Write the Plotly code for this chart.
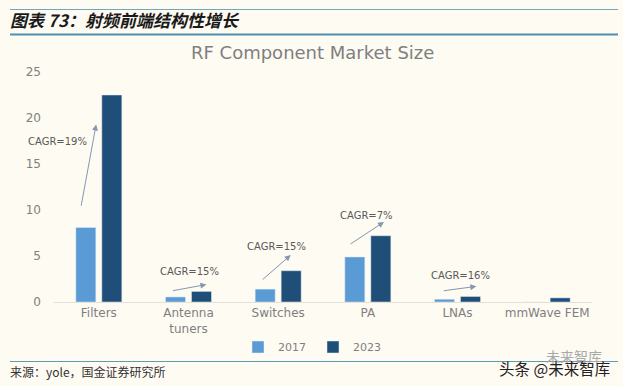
import plotly.graph_objects as go

categories = ["Filters", "Antenna<br>tuners", "Switches", "PA", "LNAs", "mmWave FEM"]
values_2017 = [8.1, 0.55, 1.4, 4.9, 0.3, 0]
values_2023 = [22.5, 1.15, 3.4, 7.2, 0.6, 0.45]
y_ticks = [0, 5, 10, 15, 20, 25]
cagr_labels = ["CAGR=19%", "CAGR=15%", "CAGR=15%", "CAGR=7%", "CAGR=16%"]
cagr_label_x = [-0.46, 1.01, 1.98, 2.99, 4.03]
cagr_label_y = [17.5, 3.3, 6.0, 9.45, 2.85]
arrow_x0 = [-0.2, 0.81, 1.81, 2.79, 3.83]
arrow_y0 = [10.3, 1.2, 2.3, 6.2, 1.2]
arrow_x1 = [-0.03, 1.2, 2.14, 3.18, 4.21]
arrow_y1 = [19.3, 1.9, 5.1, 8.7, 1.7]

W, H = 623, 386
BG = "#FEFBF3"
SANS = "DejaVu Sans"
CJK = "Noto Sans CJK SC"
fig = go.Figure()
fig.add_bar(name="2017", x=categories, y=values_2017, marker_color="#5B9BD5")
fig.add_bar(name="2023", x=categories, y=values_2023, marker_color="#1F4E79")

annotations = []
for t, x, y in zip(cagr_labels, cagr_label_x, cagr_label_y):
    annotations.append(dict(x=x, y=y, xref="x", yref="y", text=t, showarrow=False,
                            font=dict(family=SANS, size=10, color="#595959")))
for x0, y0, x1, y1 in zip(arrow_x0, arrow_y0, arrow_x1, arrow_y1):
    annotations.append(dict(x=x1, y=y1, ax=x0, ay=y0, xref="x", yref="y", axref="x", ayref="y",
                            text="", showarrow=True, arrowhead=2, arrowsize=1.2, arrowwidth=1,
                            arrowcolor="#8497B0"))


def ptext(px, py, text, size, color, family, anchor="left"):
    annotations.append(dict(x=px / W, y=1 - py / H, xref="paper", yref="paper", text=text,
                            showarrow=False, xanchor=anchor, yanchor="middle",
                            xshift=-2 if anchor == "left" else 0,
                            font=dict(family=family, size=size, color=color)))


ptext(10, 20, "<b><i>图表 73：射频前端结构性增长</i></b>", 17, "#1a1a1a", CJK)
ptext(312, 52, "RF Component Market Size", 18, "#7f7f7f", SANS, "center")
ptext(10, 371, "来源：yole，国金证券研究所", 12, "#333333", CJK)
ptext(546, 356, "未来智库", 14, "#a8a8a8", CJK)
ptext(499, 368, "头条 @未来智库", 15.5, "#222222", CJK)

shapes = [
    dict(type="line", xref="paper", yref="paper", x0=10 / W, x1=618 / W, y0=1 - py / H, y1=1 - py / H,
         line=dict(color=c, width=w), layer="below")
    for py, c, w in [(9.5, "#6FA8BE", 1), (34.5, "#4F8FAE", 2), (361.5, "#5E9BB5", 1)]
]

fig.update_layout(
    width=W, height=H, autosize=False,
    margin=dict(l=0, r=0, t=0, b=0),
    paper_bgcolor=BG, plot_bgcolor="rgba(0,0,0,0)",
    barmode="group", bargap=0.42, bargroupgap=0.23,
    font=dict(family=SANS, color="#7f7f7f", size=12),
    xaxis=dict(domain=[54 / W, 592 / W], range=[-0.5, 5.5], automargin=False, showline=True,
               linecolor="#E3E0D8", ticks="", tickfont=dict(size=12, color="#7f7f7f")),
    yaxis=dict(domain=[1 - 302 / H, 1 - 72 / H], automargin=False, range=[0, 25], tickvals=y_ticks,
               showgrid=False, zeroline=False, ticks="", ticklabelstandoff=12,
               tickfont=dict(size=12, color="#7f7f7f")),
    legend=dict(orientation="h", x=313 / W, xanchor="center", y=1 - 347 / H, yanchor="middle",
                font=dict(size=11, color="#7f7f7f"), itemwidth=30, entrywidth=30,
                bgcolor="rgba(0,0,0,0)"),
    annotations=annotations, shapes=shapes,
)
fig.write_html("out.html", config={"displayModeBar": False},
               post_script="document.body.style.margin='0';window.dispatchEvent(new Event('resize'));")
